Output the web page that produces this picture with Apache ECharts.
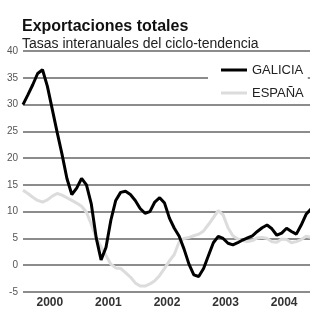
<!DOCTYPE html>
<html>
<head>
<meta charset="utf-8">
<script src="https://cdn.jsdelivr.net/npm/echarts@6/dist/echarts.min.js"></script>
<style>
  html, body { margin: 0; padding: 0; background: #fff; }
  #chart { width: 310px; height: 312px; }
</style>
</head>
<body>
<div id="chart"></div>
<script>
// monthly series, Jan 2000 = month 0
var years = ['2000', '2001', '2002', '2003', '2004'];
var yearMid = [5.5, 17.5, 29.5, 41.5, 53.5];

var galicia = [
  30.0, 31.8, 33.7, 35.8, 36.5, 33.4, 29.1, 24.8, 20.7, 16.2,
  13.2, 14.4, 16.2, 15.0, 11.4, 5.1, 1.0, 3.3, 8.4, 12.1,
  13.6, 13.8, 13.2, 12.1, 10.6, 9.7, 10.0, 11.8, 12.6, 11.6,
  8.8, 6.9, 5.4, 3.0, 0.2, -1.8, -2.1, -0.6, 1.8, 4.2,
  5.4, 5.0, 4.1, 3.8, 4.2, 4.7, 5.1, 5.5, 6.3, 7.0,
  7.5, 6.8, 5.6, 6.0, 6.9, 6.3, 5.8, 7.5, 9.5, 10.5
];

var espana = [
  14.0, 13.4, 12.7, 12.1, 11.8, 12.2, 12.9, 13.4, 13.1, 12.6,
  12.1, 11.6, 11.0, 9.9, 7.6, 5.1, 3.4, 1.8, 0.2, -0.5,
  -0.6, -1.4, -2.2, -3.3, -3.9, -3.9, -3.5, -2.9, -1.9, -0.6,
  0.8, 2.0, 4.4, 5.0, 5.2, 5.5, 5.8, 6.4, 7.6, 8.9,
  10.2, 9.4, 7.0, 5.5, 4.9, 4.6, 4.4, 4.6, 5.1, 5.2,
  5.0, 4.4, 4.3, 4.9, 4.8, 4.2, 4.4, 4.8, 5.4, 5.2
];

function pairs(arr) {
  return arr.map(function (v, i) { return [i, v]; });
}

var chart = echarts.init(document.getElementById('chart'));
var font = 'Liberation Sans';

var option = {
  animation: false,
  backgroundColor: '#fff',
  textStyle: { fontFamily: font },
  title: [
    {
      text: 'Exportaciones totales',
      left: 17, top: 14,
      textStyle: { fontFamily: font, fontSize: 16, fontWeight: 'bold', color: '#111' }
    },
    {
      text: 'Tasas interanuales del ciclo-tendencia',
      left: 17, top: 32,
      textStyle: { fontFamily: font, fontSize: 14, fontWeight: 'normal', color: '#222' }
    }
  ],
  legend: {
    orient: 'vertical',
    left: 208, top: 58,
    padding: [5, 4, 0, 13],
    backgroundColor: '#fff',
    icon: 'rect',
    itemWidth: 26,
    itemHeight: 3,
    itemGap: 9,
    textStyle: { fontFamily: font, fontSize: 13, color: '#222', lineHeight: 14 },
    data: ['GALICIA', 'ESPAÑA']
  },
  grid: { left: 23, right: 0, top: 51, bottom: 20 },
  xAxis: {
    type: 'value',
    min: 0,
    max: 58.8,
    axisLine: { show: false },
    axisTick: { show: false },
    splitLine: { show: false },
    axisLabel: {
      customValues: yearMid,
      margin: 5,
      fontFamily: font,
      fontSize: 12,
      fontWeight: 'bold',
      color: '#333',
      formatter: function (v) {
        var i = yearMid.indexOf(v);
        return i >= 0 ? years[i] : '';
      }
    }
  },
  yAxis: {
    type: 'value',
    min: -5,
    max: 40,
    interval: 5,
    axisLine: { show: false },
    axisTick: { show: false },
    axisLabel: { margin: 5, fontFamily: font, fontSize: 10, color: '#555' },
    splitLine: { lineStyle: { color: '#8c8c8c', width: 2 } }
  },
  series: [
    {
      name: 'ESPAÑA',
      type: 'line',
      data: pairs(espana),
      symbol: 'none',
      color: '#dcdcdc',
      lineStyle: { color: '#dcdcdc', width: 3 },
      z: 2
    },
    {
      name: 'GALICIA',
      type: 'line',
      data: pairs(galicia),
      symbol: 'none',
      color: '#000',
      lineStyle: { color: '#000', width: 3 },
      z: 3
    }
  ]
};

chart.setOption(option);
</script>
</body>
</html>
